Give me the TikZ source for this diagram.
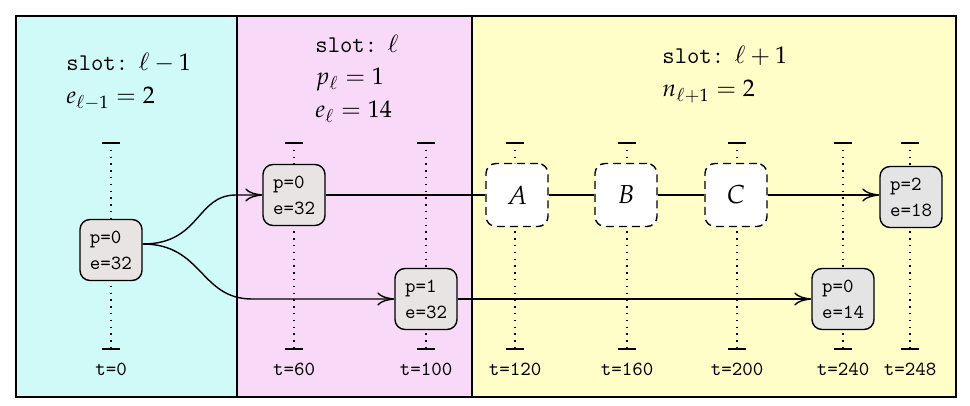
\documentclass[tikz,border=0pt]{standalone}
\usepackage{mathpazo}
\usetikzlibrary{arrows.meta}
\definecolor{cyanbg}{RGB}{208,250,247}
\definecolor{pinkbg}{RGB}{248,217,248}
\definecolor{yellowbg}{RGB}{255,254,200}
\definecolor{nodefill}{RGB}{232,228,228}
\definecolor{nodefillb}{RGB}{228,228,228}
\tikzset{
  frameline/.style={line width=1pt},
  tickbar/.style={line width=0.7pt},
  dots/.style={line width=0.7pt, dash pattern=on 0.7pt off 2.7pt},
  tlabel/.style={font=\ttfamily, inner sep=1pt},
  stbox/.style={draw, line width=0.7pt, rounded corners=5pt, fill=nodefill,
    minimum width=31pt, minimum height=30.5pt, align=left, inner sep=2pt, font=\ttfamily},
  ghost/.style={draw, line width=0.7pt, dash pattern=on 4pt off 2.5pt, rounded corners=5pt,
    fill=white, minimum width=31pt, minimum height=31.5pt, inner sep=2pt,
    font=\fontsize{13}{15}\selectfont},
  conn/.style={line width=0.7pt},
  arr/.style={conn, -{Computer Modern Rightarrow[length=8.5pt,width=6.5pt]}},
  header/.style={align=left, inner sep=0pt, anchor=north west, font=\large}
}
\begin{document}
\begin{tikzpicture}[x=0.5pt,y=-0.5pt]
\useasboundingbox (0,0) rectangle (970,406);
% regions
\fill[cyanbg] (16,16) rectangle (237,397);
\fill[pinkbg] (237,16) rectangle (472,397);
\fill[yellowbg] (472,16) rectangle (956,397);
\draw[frameline] (237,16) -- (237,397);
\draw[frameline] (472,16) -- (472,397);
\draw[frameline] (16,16) rectangle (956,397);
% headers
\node[header] (h0) at (66,53) {\texttt{slot:} $\ell-1$\\[2.5pt]$e_{\ell-1}=2$};
\node[header] (h1) at (315,35) {\texttt{slot:} $\ell$\\[2pt]$p_{\ell}=1$\\[2.5pt]$e_{\ell}=14$};
\node[header] (h2) at (662,46) {\texttt{slot:} $\ell+1$\\[2.5pt]$n_{\ell+1}=2$};
% timelines
\foreach \x/\t in {111/0, 294/60, 426/100, 515/120, 627/160, 737/200, 843/240, 910/248}{
  \coordinate (top\t) at (\x,143);
  \coordinate (bot\t) at (\x,349);
  \draw[dots] (top\t) -- (bot\t);
  \draw[tickbar] ([xshift=-4.5pt]top\t) -- ([xshift=4.5pt]top\t);
  \draw[tickbar] ([xshift=-4.5pt]bot\t) -- ([xshift=4.5pt]bot\t);
  \node[tlabel] (lab\t) at (\x,369) {t=\t};
}
% nodes
\node[stbox] (s0) at (111,250) {p=0\\[1pt]e=32};
\node[stbox] (s1) at (294,195) {p=0\\[1pt]e=32};
\node[stbox] (s2) at (426,299) {p=1\\[1pt]e=32};
\node[ghost] (A) at (517,195) {$A$};
\node[ghost] (B) at (626,195) {$B$};
\node[ghost] (C) at (736,195) {$C$};
\node[stbox, fill=nodefillb] (s3) at (911,197) {p=2\\[1pt]e=18};
\node[stbox, fill=nodefillb] (s4) at (843,299) {p=0\\[1pt]e=14};
% connectors
\coordinate (src) at ([yshift=3pt]s0.east);
\coordinate (ku) at (236,195);
\coordinate (kd) at (252,299);
\draw[arr] (src) .. controls +(58,0) and +(-40,0) .. (ku) -- (s1.west);
\draw[arr] (src) .. controls +(60,0) and +(-52,0) .. (kd) -- (s2.west);
\draw[conn] (s1.east) -- (A.west);
\draw[conn] (A.east) -- (B.west);
\draw[conn] (B.east) -- (C.west);
\draw[arr] (C.east) -- (C.east -| s3.west);
\draw[arr] (s2.east) -- (s4.west);
\end{tikzpicture}
\end{document}
